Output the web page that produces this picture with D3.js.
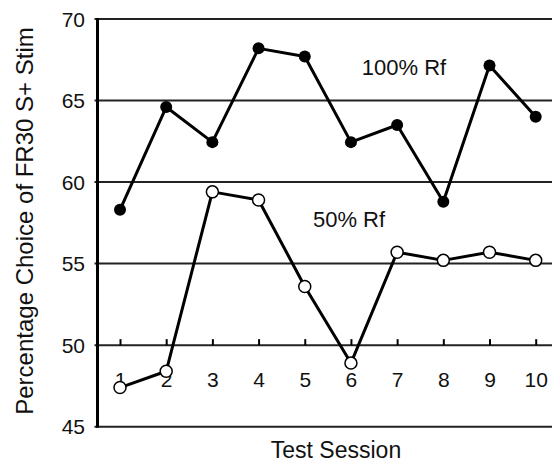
<!DOCTYPE html>
<html><head><meta charset="utf-8">
<script src="https://cdn.jsdelivr.net/npm/d3@7/dist/d3.min.js"></script>
<style>
html,body{margin:0;padding:0;background:#fff;}
text{font-family:"Liberation Sans",Arial,Helvetica,sans-serif;fill:#111;}
</style></head>
<body><svg id="c" width="552" height="463"></svg>
<script>
const sessions = [1,2,3,4,5,6,7,8,9,10];
const rf100 = [58.3,64.6,62.45,68.2,67.7,62.45,63.5,58.8,67.15,64.0];
const rf50  = [47.4,48.4,59.4,58.9,53.6,48.9,55.7,55.2,55.7,55.2];
const yTicks = [45,50,55,60,65,70];
const xLabel = "Test Session";
const yLabel = "Percentage Choice of FR30 S+ Stim";

const svg = d3.select("#c");
const axisX = 97.5;
const x = d3.scaleLinear().domain([1,10]).range([120,535.7]);
const y = d3.scaleLinear().domain([45,70]).range([426.7,19]);

// gridlines
svg.append("g").selectAll("line").data(yTicks).join("line")
  .attr("x1",axisX-3).attr("x2",552)
  .attr("y1",d=>y(d)).attr("y2",d=>y(d))
  .attr("stroke","#222").attr("stroke-width",2);

// y tick labels
svg.append("g").selectAll("text").data(yTicks).join("text")
  .attr("x",85).attr("y",d=>y(d)).attr("dy","0.36em")
  .attr("text-anchor","end").attr("font-size",21).text(d=>d);

// left axis line
svg.append("line").attr("x1",axisX).attr("x2",axisX)
  .attr("y1",y(70)-1).attr("y2",y(45)+1)
  .attr("stroke","#000").attr("stroke-width",3);

// x axis at 50 with upward ticks
const xAxis = d3.axisBottom(x).tickValues(sessions).tickSize(-6).tickPadding(27).tickFormat(d3.format("d"));
const gx = svg.append("g").attr("transform",`translate(0,${y(50)})`).call(xAxis);
gx.select(".domain").remove();
gx.selectAll(".tick line").attr("stroke","#000").attr("stroke-width",2);
gx.selectAll(".tick text").attr("font-size",21).attr("font-family","Liberation Sans, Arial, sans-serif").attr("fill","#111").attr("dy","0.71em");

// lines
const line = d3.line().x((d,i)=>x(sessions[i])).y(d=>y(d));
svg.append("path").datum(rf100).attr("d",line).attr("fill","none").attr("stroke","#000").attr("stroke-width",3).attr("stroke-linejoin","round");
svg.append("path").datum(rf50).attr("d",line).attr("fill","none").attr("stroke","#000").attr("stroke-width",3).attr("stroke-linejoin","round");

svg.append("g").selectAll("circle").data(rf100).join("circle")
  .attr("cx",(d,i)=>x(sessions[i])).attr("cy",d=>y(d)).attr("r",6).attr("fill","#000");
svg.append("g").selectAll("circle").data(rf50).join("circle")
  .attr("cx",(d,i)=>x(sessions[i])).attr("cy",d=>y(d)).attr("r",6)
  .attr("fill","#fff").attr("stroke","#000").attr("stroke-width",1.5);

// series labels
svg.append("text").attr("x",404).attr("y",74.5).attr("text-anchor","middle").attr("font-size",22).text("100% Rf");
svg.append("text").attr("x",349).attr("y",226.5).attr("text-anchor","middle").attr("font-size",22).text("50% Rf");

// axis titles
svg.append("text").attr("x",336).attr("y",458).attr("text-anchor","middle").attr("font-size",23).text(xLabel);
svg.append("text").attr("transform","translate(33,221) rotate(-90)").attr("text-anchor","middle").attr("font-size",24).text(yLabel);
</script></body></html>
